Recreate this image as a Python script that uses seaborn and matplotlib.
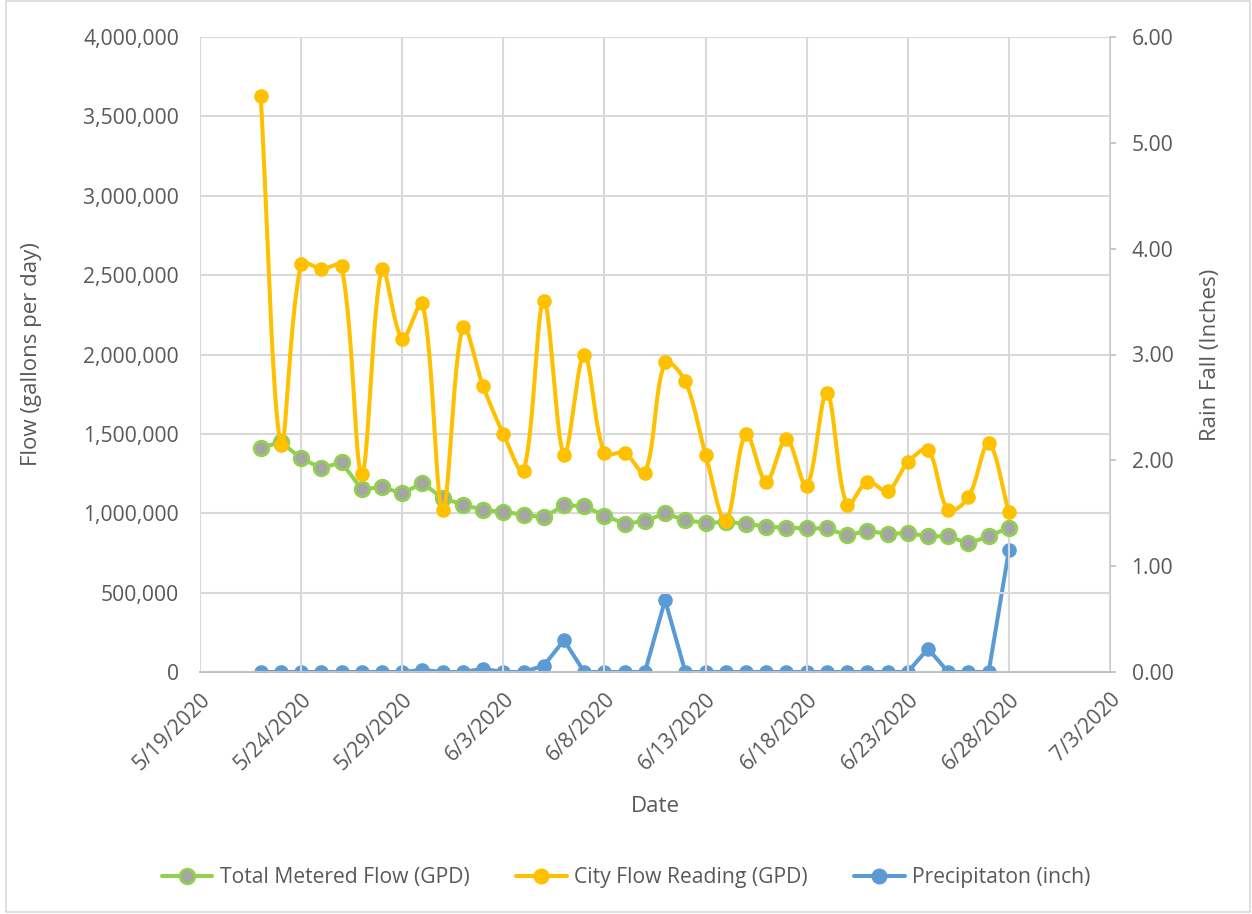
import numpy as np
import pandas as pd
import matplotlib
matplotlib.use("Agg")
import matplotlib.pyplot as plt
import matplotlib.dates as mdates
from matplotlib.lines import Line2D
from matplotlib.patches import Rectangle
import seaborn as sns

# Daily readings, 5/22/2020 - 6/28/2020
dates = pd.date_range("2020-05-22", "2020-06-28", freq="D")

total_metered_gpd = [
    1410000, 1450000, 1345000, 1285000, 1320000, 1150000, 1165000, 1125000,
    1190000, 1095000, 1055000, 1020000, 1010000, 990000, 975000, 1050000,
    1045000, 985000, 935000, 950000, 1000000, 955000, 940000, 945000,
    935000, 915000, 910000, 905000, 905000, 860000, 890000, 870000,
    875000, 855000, 855000, 810000, 855000, 910000,
]

city_flow_gpd = [
    3630000, 1430000, 2570000, 2540000, 2555000, 1250000, 2540000, 2100000,
    2325000, 1020000, 2175000, 1800000, 1500000, 1266000, 2340000, 1370000,
    2000000, 1380000, 1380000, 1255000, 1950000, 1830000, 1370000, 950000,
    1500000, 1200000, 1470000, 1170000, 1760000, 1050000, 1200000, 1140000,
    1320000, 1400000, 1020000, 1100000, 1440000, 1005000,
]

precip_inch = [
    0.00, 0.00, 0.00, 0.00, 0.00, 0.00, 0.00, 0.00,
    0.02, 0.00, 0.00, 0.03, 0.00, 0.00, 0.06, 0.30,
    0.00, 0.00, 0.00, 0.00, 0.68, 0.00, 0.00, 0.00,
    0.00, 0.00, 0.00, 0.00, 0.00, 0.00, 0.00, 0.00,
    0.00, 0.22, 0.00, 0.00, 0.00, 1.15,
]

series_names = ["Total Metered Flow (GPD)", "City Flow Reading (GPD)", "Precipitaton (inch)"]

GREEN = "#92d050"
GRAY = "#a5a5a5"
GOLD = "#ffc000"
BLUE = "#5b9bd5"
TEXT = "#595959"
GRID = "#d9d9d9"
AXIS = "#bfbfbf"

sns.set_theme(style="white")
plt.rcParams["font.family"] = ["Open Sans", "DejaVu Sans"]
plt.rcParams["text.color"] = TEXT
plt.rcParams["axes.labelcolor"] = TEXT
plt.rcParams["xtick.color"] = TEXT
plt.rcParams["ytick.color"] = TEXT

FS = 15.2
LFS = 16.0

df = pd.DataFrame({
    "date": dates,
    "metered": total_metered_gpd,
    "city": city_flow_gpd,
    "rain": precip_inch,
})

XLIM = (pd.Timestamp("2020-05-19"), pd.Timestamp("2020-07-03"))
YLIM = (0, 4000000)
AX_W_PX, AX_H_PX = 910, 635


def smooth_curve(x, y, sx, sy, steps=24, s=1 / 3):
    """Bezier smoothing in screen space; tangents are scaled by the
    neighbouring segment lengths so short segments don't overshoot."""
    P = np.column_stack([np.asarray(x, float) * sx, np.asarray(y, float) * sy])
    n = len(P)
    d = np.linalg.norm(np.diff(P, axis=0), axis=1)
    T = np.zeros_like(P)
    T[1:-1] = P[2:] - P[:-2]
    T[0] = P[1] - P[0]
    T[-1] = P[-1] - P[-2]
    t = np.linspace(0, 1, steps, endpoint=False)[:, None]
    pts = []
    for i in range(n - 1):
        if i == 0:
            c1 = P[i] + T[i] * s
        else:
            c1 = P[i] + T[i] * s * d[i] / (d[i - 1] + d[i])
        if i + 1 == n - 1:
            c2 = P[i + 1] - T[i + 1] * s
        else:
            c2 = P[i + 1] - T[i + 1] * s * d[i] / (d[i] + d[i + 1])
        seg = ((1 - t) ** 3 * P[i] + 3 * (1 - t) ** 2 * t * c1
               + 3 * (1 - t) * t ** 2 * c2 + t ** 3 * P[i + 1])
        pts.append(seg)
    pts.append(P[-1:])
    pts = np.vstack(pts)
    return pts[:, 0] / sx, pts[:, 1] / sy


fig = plt.figure(figsize=(12.52, 9.14), dpi=100)
ax = fig.add_axes([200 / 1252, 1 - 672 / 914, AX_W_PX / 1252, AX_H_PX / 914])
ax2 = ax.twinx()

lw = 2.9
ms = 10.5

# Total metered flow: gray markers with green edge
sns.lineplot(data=df, x="date", y="metered", ax=ax, color=GREEN, lw=lw,
             marker="o", markersize=ms, markerfacecolor=GRAY,
             markeredgecolor=GREEN, markeredgewidth=2, zorder=3)

# City flow reading: smoothed line with markers
xnum = mdates.date2num(df["date"])
x_span = mdates.date2num(XLIM[1]) - mdates.date2num(XLIM[0])
cx, cy = smooth_curve(xnum, df["city"].values,
                      AX_W_PX / x_span, AX_H_PX / (YLIM[1] - YLIM[0]))
smooth_df = pd.DataFrame({"date": mdates.num2date(cx), "city": cy})
sns.lineplot(data=smooth_df, x="date", y="city", ax=ax, color=GOLD, lw=lw,
             sort=False, estimator=None, zorder=4)
sns.scatterplot(data=df, x="date", y="city", ax=ax, color=GOLD, s=ms ** 2,
                edgecolor=GOLD, linewidth=0, zorder=5)

# Precipitation on the secondary axis
sns.lineplot(data=df, x="date", y="rain", ax=ax2, color=BLUE, lw=lw,
             marker="o", markersize=ms, markeredgecolor=BLUE,
             markeredgewidth=0, zorder=3)

# Axes limits and ticks
ax.set_xlim(*XLIM)
ax.set_ylim(*YLIM)
ax2.set_ylim(0, 6)
xticks = pd.date_range(XLIM[0], XLIM[1], freq="5D")
ax.set_xticks(xticks)
ax.set_xticklabels([f"{d.month}/{d.day}/{d.year}" for d in xticks],
                   rotation=45, ha="right", rotation_mode="anchor", fontsize=FS)
yt = np.arange(0, 4000001, 500000)
ax.set_yticks(yt)
ax.set_yticklabels([f"{v:,.0f}" for v in yt], fontsize=FS)
rt = np.arange(0, 6.01, 1.0)
ax2.set_yticks(rt)
ax2.set_yticklabels([f"{v:.2f}" for v in rt], fontsize=FS)

ax.tick_params(axis="x", length=0, pad=12)
ax.tick_params(axis="y", length=0, pad=15)
ax2.tick_params(axis="y", length=4.5, width=1.2, color=AXIS, pad=11)

ax.grid(True, color=GRID, lw=1.5)
ax.set_axisbelow(True)
for a in (ax, ax2):
    for side in ("top", "left"):
        a.spines[side].set_visible(False)
    a.spines["bottom"].set_color(AXIS)
    a.spines["bottom"].set_linewidth(1.2)
ax.spines["right"].set_visible(False)
ax2.spines["right"].set_color(AXIS)
ax2.spines["right"].set_linewidth(1.2)

ax.set_xlabel("Date", fontsize=LFS, labelpad=16)
ax.set_ylabel("Flow (gallons per day)", fontsize=LFS, labelpad=30)
ax2.set_ylabel("Rain Fall (Inches)", fontsize=LFS, labelpad=19)

# Keep the primary series and its grid above the secondary axes patch
ax.set_zorder(ax2.get_zorder() + 1)
ax.patch.set_visible(False)

handles = [
    Line2D([], [], color=GREEN, lw=lw, marker="o", markersize=ms,
           markerfacecolor=GRAY, markeredgecolor=GREEN, markeredgewidth=2),
    Line2D([], [], color=GOLD, lw=lw, marker="o", markersize=ms,
           markerfacecolor=GOLD, markeredgecolor=GOLD),
    Line2D([], [], color=BLUE, lw=lw, marker="o", markersize=ms,
           markerfacecolor=BLUE, markeredgecolor=BLUE),
]
fig.legend(handles, series_names, loc="center", bbox_to_anchor=(0.5, 1 - 878 / 914),
           ncol=3, frameon=False, fontsize=FS, handlelength=2.4,
           columnspacing=2.2, handletextpad=0.35)

# Chart border
fig.patches.append(Rectangle((6 / 1252, 2 / 914), 1 - 8 / 1252, 1 - 3 / 914,
                             transform=fig.transFigure, fill=False,
                             edgecolor=GRID, lw=1.2))

fig.savefig("out.png", dpi=100)
